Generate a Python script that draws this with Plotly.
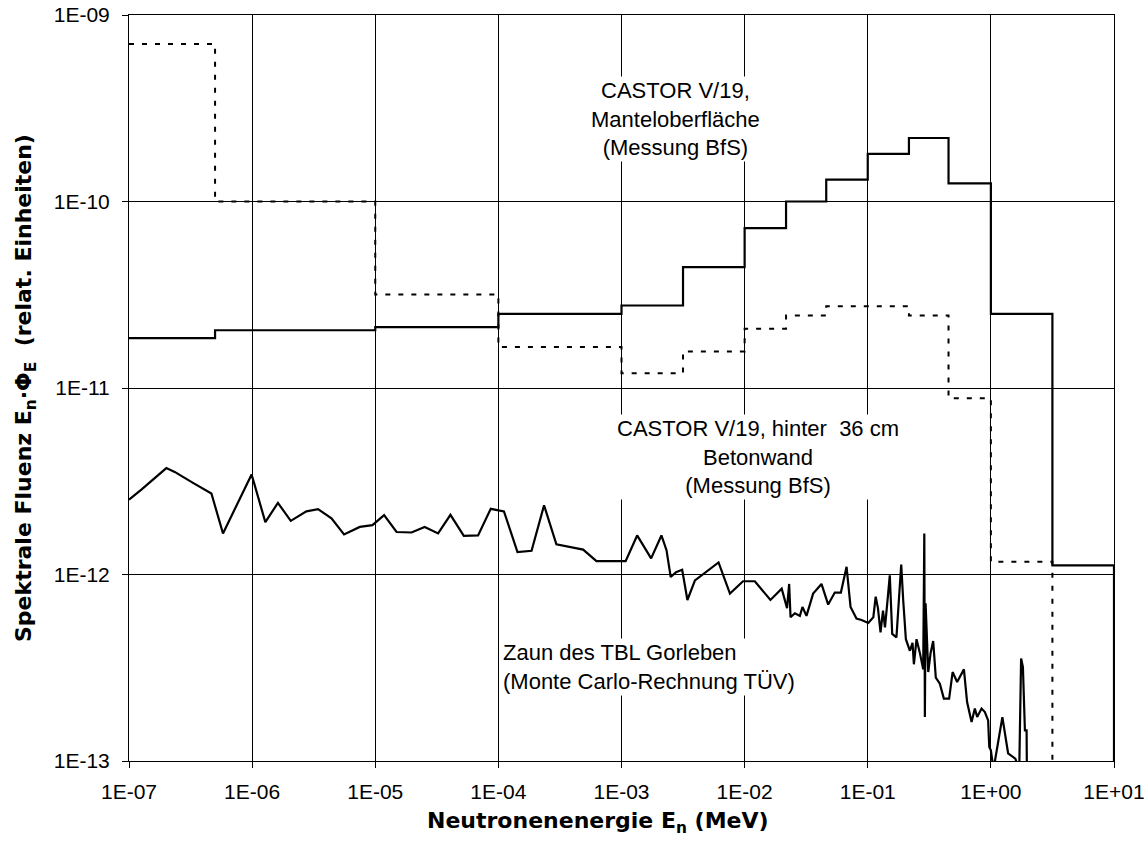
import plotly.graph_objects as go

# ---- data ----
x_tick_vals = [1e-7, 1e-6, 1e-5, 1e-4, 1e-3, 1e-2, 1e-1, 1e0, 1e1]
x_tick_text = ["1E-07", "1E-06", "1E-05", "1E-04", "1E-03", "1E-02", "1E-01", "1E+00", "1E+01"]
y_tick_vals = [1e-13, 1e-12, 1e-11, 1e-10, 1e-9]
y_tick_text = ["1E-13", "1E-12", "1E-11", "1E-10", "1E-09"]

# CASTOR V/19, Manteloberfläche (step spectrum)
mantel_edges = [1e-7, 5e-7, 1e-5, 1e-4, 1e-3, 3.16e-3, 1e-2, 2.17e-2, 4.6e-2, 1e-1, 0.216, 0.453, 1.0, 3.16, 10.0]
mantel_vals = [1.85e-11, 2.04e-11, 2.12e-11, 2.5e-11, 2.77e-11, 4.45e-11, 7.2e-11,
               1.0e-10, 1.31e-10, 1.8e-10, 2.19e-10, 1.25e-10, 2.5e-11, 1.12e-12]

# CASTOR V/19, hinter 36 cm Betonwand (step spectrum)
beton_edges = [1e-7, 5e-7, 1e-5, 1e-4, 1e-3, 3.16e-3, 1e-2, 2.17e-2, 4.6e-2, 0.216, 0.453, 1.0, 3.16]
beton_vals = [7.0e-10, 1.0e-10, 3.17e-11, 1.66e-11, 1.2e-11, 1.57e-11, 2.08e-11,
              2.45e-11, 2.74e-11, 2.45e-11, 8.8e-12, 1.17e-12]

FLOOR = 1e-13

# Zaun des TBL Gorleben (Monte Carlo)
mc_energy = [1.0e-7, 1.26e-7, 2.01e-7, 2.35e-7, 3.31e-7, 4.67e-7, 5.8e-7, 9.9e-7, 1.28e-6, 1.62e-6,
             2.06e-6, 2.76e-6, 3.43e-6, 4.41e-6, 5.58e-6, 7.49e-6, 9.49e-6, 1.18e-5, 1.49e-5, 1.97e-5,
             2.52e-5, 3.24e-5, 4.08e-5, 5.24e-5, 6.84e-5, 8.67e-5, 1.11e-4, 1.43e-4, 1.86e-4, 2.35e-4,
             2.96e-4, 3.80e-4, 4.88e-4, 6.26e-4, 8.03e-4, 1.08e-3, 1.34e-3, 1.74e-3, 2.11e-3, 2.32e-3,
             2.51e-3, 2.77e-3, 3.11e-3, 3.43e-3, 3.95e-3, 5.29e-3, 6.14e-3, 7.6e-3, 9.7e-3, 1.21e-2,
             1.62e-2, 2.0e-2, 2.12e-2, 2.21e-2, 2.3e-2, 2.36e-2, 2.56e-2, 2.81e-2, 2.95e-2, 3.18e-2,
             3.6e-2, 4.21e-2, 4.77e-2, 5.4e-2, 6.05e-2, 6.73e-2, 7.25e-2, 8.1e-2, 8.9e-2, 0.101,
             0.111, 0.116, 0.121, 0.127, 0.133, 0.138, 0.144, 0.151, 0.158, 0.171,
             0.179, 0.187, 0.194, 0.204, 0.22, 0.231, 0.237, 0.249, 0.265, 0.282,
             0.288, 0.291, 0.295, 0.31, 0.324, 0.34, 0.357, 0.385, 0.415, 0.458,
             0.489, 0.532, 0.604, 0.641, 0.697, 0.741, 0.774, 0.84, 0.894, 0.95,
             0.97, 1.0, 1.05, 1.24, 1.38, 1.58, 1.70, 1.76, 1.82, 1.89,
             1.95, 1.96]
mc_fluence = [2.52e-12, 2.85e-12, 3.72e-12, 3.55e-12, 3.10e-12, 2.72e-12, 1.66e-12, 3.44e-12, 1.91e-12, 2.42e-12,
              1.94e-12, 2.18e-12, 2.24e-12, 2.0e-12, 1.64e-12, 1.80e-12, 1.84e-12, 2.08e-12, 1.69e-12, 1.68e-12,
              1.80e-12, 1.66e-12, 2.09e-12, 1.61e-12, 1.62e-12, 2.25e-12, 2.18e-12, 1.32e-12, 1.34e-12, 2.35e-12,
              1.45e-12, 1.40e-12, 1.36e-12, 1.18e-12, 1.18e-12, 1.18e-12, 1.62e-12, 1.22e-12, 1.62e-12, 1.35e-12,
              9.7e-13, 1.03e-12, 1.06e-12, 7.3e-13, 9.3e-13, 1.08e-12, 1.16e-12, 7.9e-13, 9.2e-13, 9.2e-13,
              7.3e-13, 8.4e-13, 7.4e-13, 6.6e-13, 8.9e-13, 5.9e-13, 6.2e-13, 6.0e-13, 6.7e-13, 6.0e-13,
              7.9e-13, 8.9e-13, 6.9e-13, 8.0e-13, 8.0e-13, 1.10e-12, 6.7e-13, 5.8e-13, 5.7e-13, 5.5e-13,
              5.9e-13, 7.6e-13, 6.6e-13, 4.9e-13, 6.4e-13, 5.2e-13, 7.0e-13, 9.9e-13, 4.8e-13, 4.6e-13,
              7.3e-13, 1.13e-12, 7.3e-13, 4.5e-13, 3.9e-13, 4.3e-13, 3.3e-13, 4.5e-13, 3.8e-13, 3.1e-13,
              1.66e-12, 1.72e-13, 7.0e-13, 3.0e-13, 3.8e-13, 4.4e-13, 2.8e-13, 2.6e-13, 2.16e-13, 2.16e-13,
              3.0e-13, 2.65e-13, 3.1e-13, 2.07e-13, 1.62e-13, 1.91e-13, 1.72e-13, 1.91e-13, 1.83e-13, 1.65e-13,
              1.19e-13, 1.14e-13, 9e-14, 1.72e-13, 1.1e-13, 1.03e-13, 9e-14, 3.54e-13, 3.2e-13, 1.46e-13,
              1.46e-13, 9e-14]

label_mantel = "CASTOR V/19,<br>Manteloberfläche<br>(Messung BfS)"
label_beton = "CASTOR V/19, hinter \u00a036 cm<br>Betonwand<br>(Messung BfS)"
label_zaun = "Zaun des TBL Gorleben<br>(Monte Carlo-Rechnung TÜV)"
x_title = "Neutronenenergie E<sub>n</sub> (MeV)"
y_title = "Spektrale Fluenz E<sub>n</sub>·Φ<sub>E</sub>  (relat. Einheiten)"

# ---- figure ----
fig = go.Figure()

fig.add_trace(go.Scatter(
    x=beton_edges, y=beton_vals + [FLOOR], mode="lines", line_shape="hv",
    line=dict(color="black", width=2, dash="5px,8px"), showlegend=False, hoverinfo="skip"))

fig.add_trace(go.Scatter(
    x=mantel_edges, y=mantel_vals + [FLOOR], mode="lines", line_shape="hv",
    line=dict(color="black", width=2.2), showlegend=False, hoverinfo="skip"))

fig.add_trace(go.Scatter(
    x=mc_energy, y=mc_fluence, mode="lines",
    line=dict(color="black", width=2.2), showlegend=False, hoverinfo="skip"))

tick_font = dict(family="Liberation Sans", size=21, color="black")
title_font = dict(family="DejaVu Sans", size=22, color="black", weight="bold")
ann_font = dict(family="Liberation Sans", size=22, color="black")

fig.update_xaxes(
    type="log", range=[-7, 1], tickvals=x_tick_vals, ticktext=x_tick_text,
    showgrid=True, gridcolor="black", gridwidth=1,
    showline=True, linecolor="black", linewidth=1, mirror=True,
    ticks="outside", ticklen=6, tickcolor="black", tickfont=tick_font,
    ticklabelstandoff=6, zeroline=False, automargin=False)
fig.update_yaxes(
    type="log", range=[-13, -9], tickvals=y_tick_vals, ticktext=y_tick_text,
    showgrid=True, gridcolor="black", gridwidth=1,
    showline=True, linecolor="black", linewidth=1, mirror=True,
    ticks="outside", ticklen=6, tickcolor="black", tickfont=tick_font,
    ticklabelstandoff=8, zeroline=False, automargin=False)

annotations = [
    dict(text=label_mantel, x=-2.559, y=-9.555, xref="x", yref="y", showarrow=False,
         xanchor="center", yanchor="middle", align="center", font=ann_font, bgcolor="white"),
    dict(text=label_beton, x=-1.893, y=-11.372, xref="x", yref="y", showarrow=False,
         xanchor="center", yanchor="middle", align="center", font=ann_font, bgcolor="white"),
    dict(text=label_zaun, x=-3.975, y=-12.498, xref="x", yref="y", showarrow=False,
         xanchor="left", yanchor="middle", align="left", font=ann_font, bgcolor="white"),
    dict(text=x_title, x=0.476, y=0, xref="paper", yref="paper", yshift=-61,
         showarrow=False, xanchor="center", yanchor="middle", font=title_font),
    dict(text=y_title, x=0, y=0.5, xref="paper", yref="paper", xshift=-104, textangle=-90,
         showarrow=False, xanchor="center", yanchor="middle", font=title_font),
]

fig.update_layout(
    width=1147, height=845, autosize=False,
    margin=dict(l=129, r=33, t=15, b=84),
    paper_bgcolor="white", plot_bgcolor="white",
    annotations=annotations, showlegend=False)

fig.write_html("out.html")
